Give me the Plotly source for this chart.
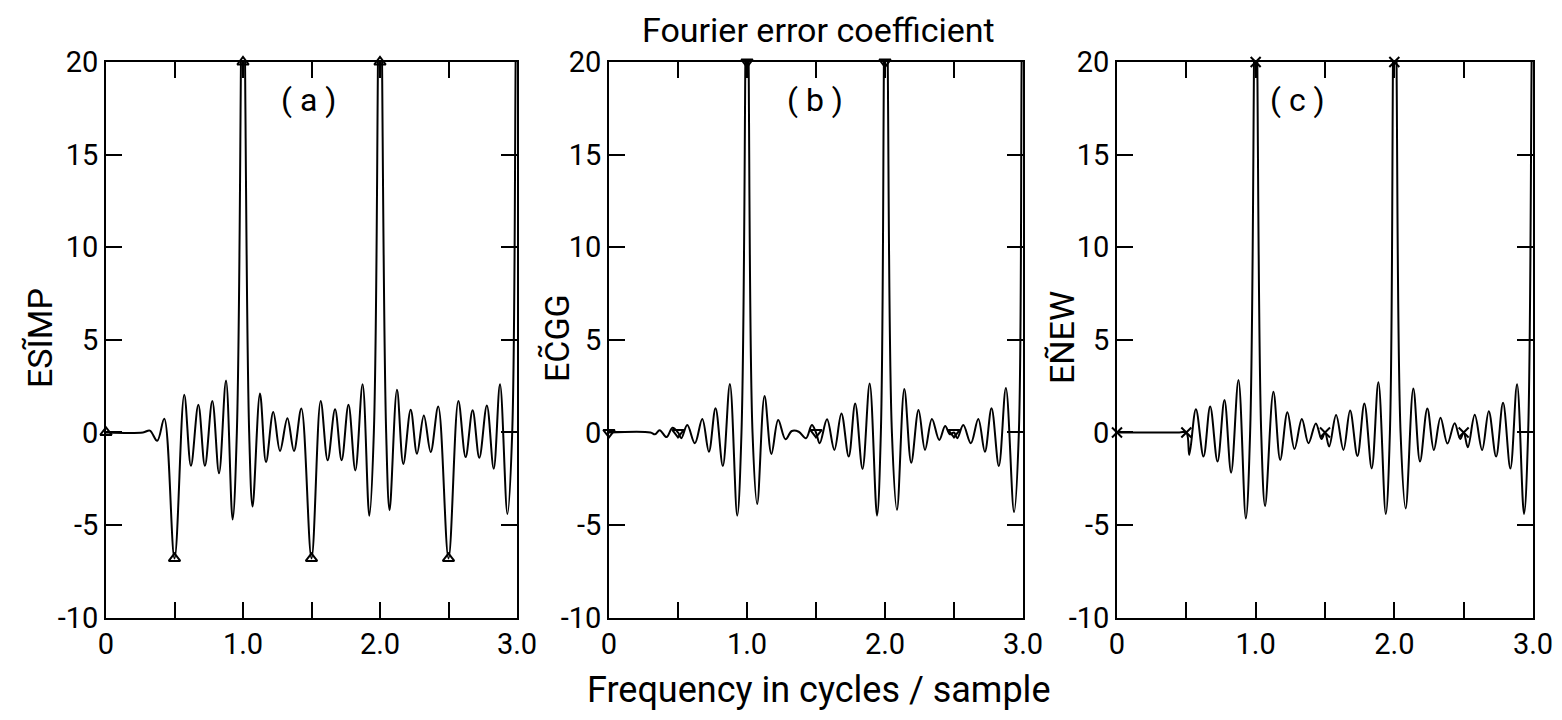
import plotly.graph_objects as go

# ---------------- data ----------------
freq_a = [0, 0.27, 0.32, 0.374, 0.425, 0.5, 0.571, 0.62, 0.674, 0.722, 0.776, 0.825, 0.876, 0.924,
          0.955, 0.985, 1.0, 1.015, 1.045, 1.07, 1.124, 1.168, 1.221, 1.27, 1.324, 1.372, 1.426,
          1.5, 1.567, 1.618, 1.672, 1.72, 1.77, 1.82, 1.873, 1.922,
          1.955, 1.985, 2.0, 2.015, 2.045, 2.07, 2.124, 2.17, 2.224, 2.27, 2.32, 2.37, 2.425,
          2.5, 2.572, 2.625, 2.676, 2.725, 2.78, 2.83, 2.876, 2.93, 2.965, 2.99, 3.0]
esimp = [0, 0, 0.1, -0.45, 0.74, -6.8, 2.04, -1.8, 1.5, -1.8, 1.7, -2.2, 2.8, -4.7,
         0, 20, 40, 20, 0, -4.0, 2.1, -1.6, 1.1, -1.0, 0.77, -1.0, 1.3,
         -6.8, 1.7, -1.5, 1.25, -1.5, 1.5, -2.05, 2.6, -4.5,
         0, 20, 40, 20, 0, -4.2, 2.3, -1.7, 1.23, -1.15, 0.92, -1.06, 1.4,
         -6.8, 1.7, -1.33, 1.2, -1.37, 1.46, -1.96, 2.6, -4.4, 0, 20, 30]

freq_b = [0, 0.3, 0.333, 0.367, 0.417, 0.46, 0.5, 0.524, 0.567, 0.622, 0.676, 0.724, 0.772, 0.825,
          0.876, 0.929, 0.96, 0.988, 1.0, 1.012, 1.04, 1.074, 1.127, 1.177, 1.226, 1.279, 1.325,
          1.375, 1.427, 1.47, 1.5, 1.527, 1.58, 1.633, 1.684, 1.737, 1.784, 1.837, 1.889, 1.942,
          1.97, 1.992, 2.005, 2.02, 2.05, 2.087, 2.14, 2.19, 2.243, 2.29, 2.34, 2.393, 2.436,
          2.47, 2.5, 2.524, 2.567, 2.622, 2.676, 2.724, 2.772, 2.825, 2.876, 2.935, 2.97, 2.99, 3.0]
ecgg = [0, 0, -0.1, 0.12, -0.25, 0.25, 0, -0.31, 0.40, -0.58, 0.73, -1.04, 1.31, -1.81,
        2.62, -4.49, 0, 20, 40, 20, 0, -3.86, 1.97, -1.16, 0.67, -0.37, 0.08,
        0.04, -0.31, 0.40, 0, -0.58, 0.71, -0.94, 1.03, -1.3, 1.57, -1.97, 2.65, -4.49,
        0, 20, 40, 20, 0, -4.18, 2.35, -1.63, 1.21, -0.94, 0.73, -0.4, 0.35,
        -0.1, 0, -0.31, 0.40, -0.58, 0.73, -1.04, 1.31, -1.81, 2.4, -4.3, 0, 20, 30]

freq_c = [0, 0.45, 0.5, 0.521, 0.569, 0.624, 0.672, 0.725, 0.775, 0.823, 0.876, 0.929,
          0.96, 0.988, 1.0, 1.012, 1.04, 1.068, 1.128, 1.177, 1.229, 1.28, 1.333, 1.381, 1.434,
          1.475, 1.5, 1.53, 1.58, 1.633, 1.681, 1.734, 1.784, 1.837, 1.885, 1.938,
          1.968, 1.99, 2.003, 2.016, 2.045, 2.082, 2.137, 2.185, 2.238, 2.285, 2.333, 2.383, 2.435,
          2.475, 2.5, 2.53, 2.58, 2.633, 2.681, 2.734, 2.784, 2.837, 2.885, 2.935, 2.965, 2.99, 3.0]
enew = [0, 0, 0, -1.21, 1.25, -1.3, 1.4, -1.57, 1.75, -2.17, 2.83, -4.64,
        0, 20, 40, 20, 0, -3.97, 2.2, -1.48, 1.09, -0.89, 0.73, -0.58, 0.49,
        -0.35, 0, -0.76, 0.94, -0.94, 1.18, -1.27, 1.57, -1.94, 2.71, -4.4,
        0, 20, 40, 20, 0, -4.1, 2.38, -1.57, 1.3, -0.95, 0.8, -0.6, 0.5,
        -0.35, 0, -0.8, 0.95, -0.95, 1.15, -1.3, 1.6, -1.95, 2.6, -4.4, 0, 20, 30]

sample_freq = [0, 0.5, 1.0, 1.5, 2.0, 2.5]
sample_a = [0, -6.8, 20, -6.8, 20, -6.8]
sample_b = [0, 0, 20, 0, 20, 0]
sample_c = [0, 0, 20, 0, 20, 0]

x_tickvals = [0, 0.5, 1.0, 1.5, 2.0, 2.5, 3.0]
x_ticktext = ["0", "", "1.0", "", "2.0", "", "3.0"]
y_tickvals = [-10, -5, 0, 5, 10, 15, 20]
y_ticktext = ["-10", "-5", "0", "5", "10", "15", "20"]

panel_letters = ["( a )", "( b )", "( c )"]
y_titles = ["ESĨMP", "EC̃GG", "EÑEW"]
title_text = "Fourier error coefficient"
x_title = "Frequency in cycles / sample"

# ---------------- figure ----------------
FONT = "Roboto, Liberation Sans, sans-serif"
OFF = 8                      # page body margin
W, H = 1562 - 2 * OFF, 720 - 2 * OFF
x_domains = [(106, 517), (609, 1023), (1117, 1533)]
y_top, y_bot = 62, 617.7


def px(v):
    return (v - OFF) / W


def py(v):
    return 1 - (v - OFF) / H


ydom = [py(y_bot), py(y_top)]

fig = go.Figure()
series = [(freq_a, esimp, sample_a, "triangle-up-open"),
          (freq_b, ecgg, sample_b, "triangle-down-open"),
          (freq_c, enew, sample_c, "x-thin-open")]

for i, (fx, fy, sy, sym) in enumerate(series):
    xa = "x" if i == 0 else f"x{i+1}"
    ya = "y" if i == 0 else f"y{i+1}"
    fig.add_trace(go.Scatter(x=fx, y=fy, mode="lines", xaxis=xa, yaxis=ya,
                             line=dict(color="black", width=2, shape="spline", smoothing=1.0),
                             showlegend=False, hoverinfo="skip"))
    fig.add_trace(go.Scatter(x=sample_freq, y=sy, mode="markers", xaxis=xa, yaxis=ya,
                             marker=dict(symbol=sym, size=10, color="black",
                                         line=dict(color="black", width=2)),
                             cliponaxis=False, showlegend=False, hoverinfo="skip"))

axis_common = dict(showline=True, linecolor="black", linewidth=1.8, mirror="ticks",
                   ticks="inside", ticklen=16, tickwidth=1.6, tickcolor="black",
                   showgrid=False, zeroline=False, automargin=False,
                   tickfont=dict(family=FONT, size=29, color="black"))

layout = dict(width=W, height=H, autosize=False,
              margin=dict(l=0, r=0, t=0, b=0, pad=0),
              paper_bgcolor="white", plot_bgcolor="white",
              font=dict(family=FONT, color="black"))

for i, (x0, x1) in enumerate(x_domains):
    sfx = "" if i == 0 else str(i + 1)
    layout[f"xaxis{sfx}"] = dict(axis_common, domain=[px(x0), px(x1)], range=[0, 3.0],
                                 tickvals=x_tickvals, ticktext=x_ticktext,
                                 anchor="y" + sfx, ticklabelstandoff=0)
    layout[f"yaxis{sfx}"] = dict(axis_common, domain=ydom, range=[-10, 20],
                                 tickvals=y_tickvals, ticktext=y_ticktext,
                                 anchor="x" + sfx, ticklabelstandoff=0)

fig.update_layout(**layout)

annotations = []
letter_x = [308, 815, 1297]
for i, lx in enumerate(letter_x):
    annotations.append(dict(x=px(lx), y=py(100), xref="paper", yref="paper",
                            xanchor="center", yanchor="middle",
                            text=panel_letters[i], showarrow=False,
                            font=dict(family=FONT, size=32, color="black")))
ytitle_x = [40, 557, 1062]
for i, tx in enumerate(ytitle_x):
    annotations.append(dict(x=px(tx), y=py(338), xref="paper", yref="paper",
                            xanchor="center", yanchor="middle",
                            text=y_titles[i], textangle=-90, showarrow=False,
                            font=dict(family=FONT, size=34, color="black")))
annotations.append(dict(x=px(818), y=1.0, xref="paper", yref="paper",
                        xanchor="center", yanchor="top",
                        text=title_text, showarrow=False,
                        font=dict(family=FONT, size=34, color="black")))
annotations.append(dict(x=px(818), y=py(690), xref="paper", yref="paper",
                        xanchor="center", yanchor="middle",
                        text=x_title, showarrow=False,
                        font=dict(family=FONT, size=36, color="black")))
fig.update_layout(annotations=annotations)

fig.write_html("out.html")
